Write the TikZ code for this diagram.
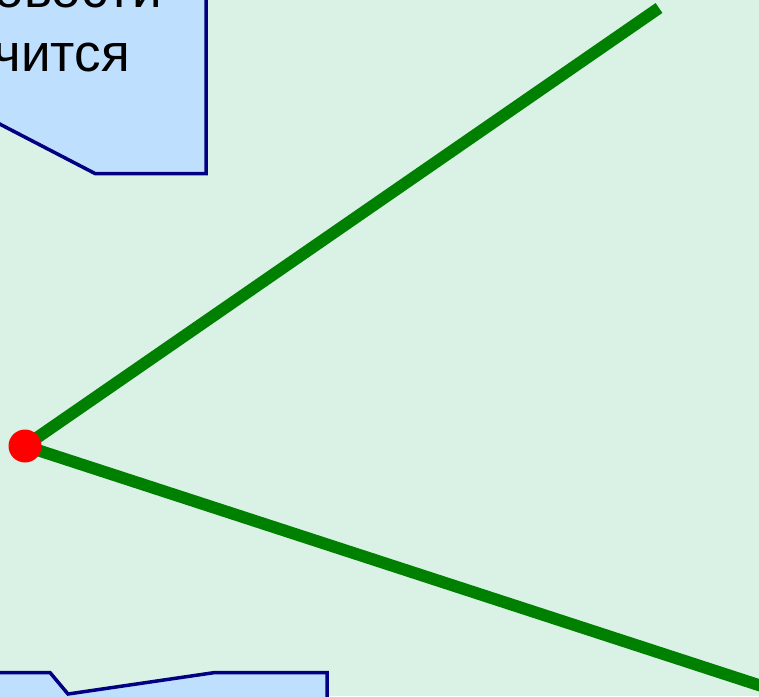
\documentclass[tikz,border=0pt]{standalone}
\usepackage{fontspec}
\setmainfont{Liberation Sans}
\definecolor{bgcol}{HTML}{DAF2E6}
\definecolor{callfill}{HTML}{BFDFFF}
\definecolor{callline}{HTML}{000080}
\definecolor{linegreen}{HTML}{008000}
\tikzset{
  callout/.style={fill=callfill,draw=callline,line width=3.5pt,line join=miter},
  ray/.style={draw=linegreen,line width=12pt},
  txt/.style={font=\fontsize{53}{64}\selectfont,inner sep=0pt,text=black},
}
\begin{document}
\begin{tikzpicture}[x=1pt,y=-1pt]
\useasboundingbox (0,0) rectangle (759,696);
\clip (0,0) rectangle (759,696);
\fill[bgcol] (0,0) rectangle (759,696);
% top callout
\draw[callout] (-20,-20) -- (206,-20) -- (206,173.5) -- (95,173.5) -- (-10,119) -- cycle;
\node[txt,anchor=base east] (t1) at (162,7) {овости};
\node[txt,anchor=base east] (t2) at (130,71) {чится};
% bottom callout
\draw[callout] (-20,672.5) -- (50,672.5) -- (68,694) -- (215,672.5) -- (327,672.5) -- (327,720) -- (-20,720) -- cycle;
% rays
\coordinate (o) at (25,446);
\coordinate (a) at (659,8);
\coordinate (b) at (780,692);
\draw[ray] (o) -- (a);
\draw[ray] (o) -- (b);
\node[circle,fill=red,minimum size=33pt,inner sep=0pt] (dot) at (o) {};
\end{tikzpicture}
\end{document}
